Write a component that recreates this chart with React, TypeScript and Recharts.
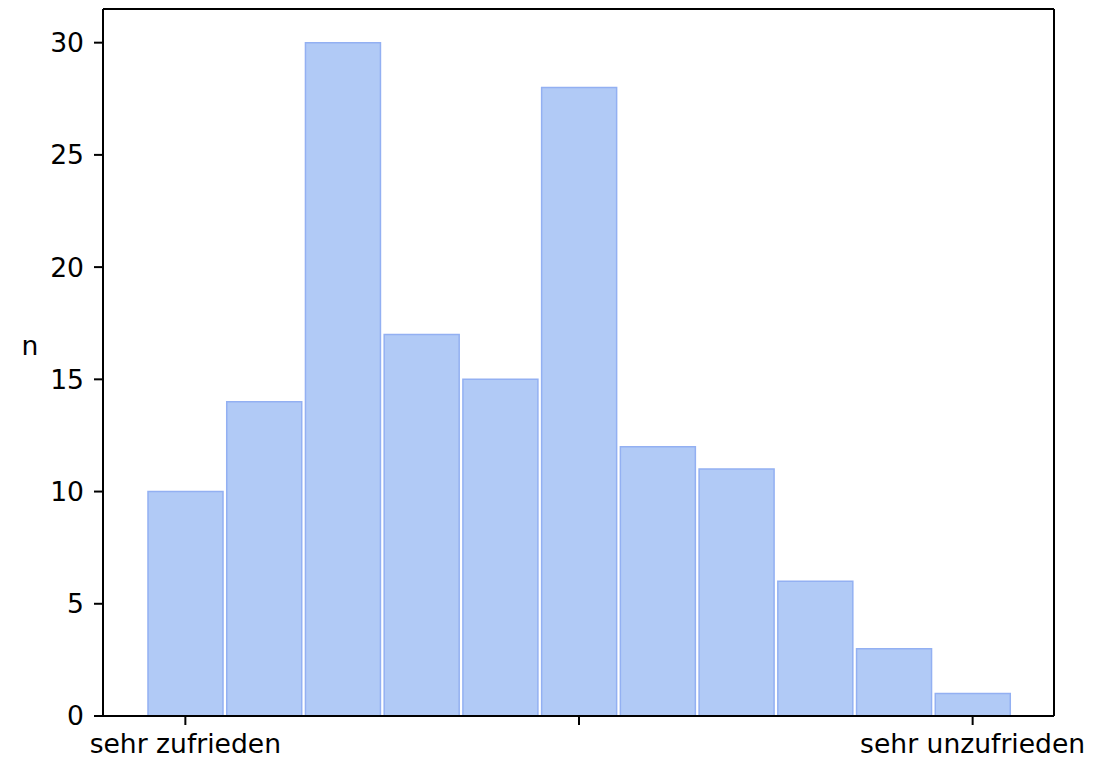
import React from "react";
import { BarChart, Bar, XAxis, YAxis } from "recharts";

const categories = [1, 2, 3, 4, 5, 6, 7, 8, 9, 10, 11];
const counts = [10, 14, 30, 17, 15, 28, 12, 11, 6, 3, 1];
const yTicks = [0, 5, 10, 15, 20, 25, 30];
const xTickValues = [1, 6, 11];
const xTickLabels = ["sehr zufrieden", "", "sehr unzufrieden"];
const yLabel = "n";

const data = categories.map((c, i) => ({ cat: c, n: counts[i] }));

const FONT = "'DejaVu Sans', sans-serif";
const FONT_SIZE = 26.6;
const TICK_SIZE = 9;
const TICK_MARGIN = 9;

function XTick(props: any) {
  const { x, y, payload } = props;
  const idx = xTickValues.indexOf(payload.value);
  if (idx < 0) return null;
  const axisY = y - TICK_SIZE - TICK_MARGIN;
  return (
    <g>
      <line x1={x} x2={x} y1={axisY} y2={axisY + TICK_SIZE} stroke="#000" strokeWidth={2} />
      {xTickLabels[idx] ? (
        <text
          x={x}
          y={y}
          dy="0.71em"
          textAnchor="middle"
          fill="#000"
          fontSize={FONT_SIZE}
          fontFamily={FONT}
        >
          {xTickLabels[idx]}
        </text>
      ) : null}
    </g>
  );
}

function YLabel(props: any) {
  const vb = props.viewBox || {};
  const midY = (vb.y || 0) + (vb.height || 0) / 2;
  return (
    <text
      x={(vb.x || 0) + 22}
      y={midY - 7.5}
      textAnchor="middle"
      fill="#000"
      fontSize={FONT_SIZE}
      fontFamily={FONT}
    >
      {yLabel}
    </text>
  );
}

export default function App() {
  return (
    <BarChart
      width={1090}
      height={752}
      data={data}
      margin={{ top: 0, right: 43, bottom: 8, left: 0 }}
      barCategoryGap={2}
    >
      <XAxis
        dataKey="cat"
        type="category"
        interval={0}
        height={36}
        padding={{ left: 43, right: 42 }}
        tickLine={false}
        tickSize={TICK_SIZE}
        tickMargin={TICK_MARGIN}
        axisLine={{ stroke: "#000", strokeWidth: 2 }}
        tick={<XTick />}
      />
      <XAxis
        xAxisId="top"
        dataKey="cat"
        orientation="top"
        height={1}
        tick={false}
        tickLine={false}
        padding={{ left: 43, right: 42 }}
        axisLine={{ stroke: "#000", strokeWidth: 2 }}
      />
      <YAxis
        type="number"
        domain={[0, 31.5]}
        ticks={yTicks}
        width={95}
        tickSize={TICK_SIZE}
        tickMargin={10}
        tickLine={{ stroke: "#000", strokeWidth: 2 }}
        axisLine={{ stroke: "#000", strokeWidth: 2 }}
        tick={{ fill: "#000", fontSize: FONT_SIZE, fontFamily: FONT }}
        label={<YLabel />}
        allowDataOverflow
      />
      <YAxis
        yAxisId="right"
        orientation="right"
        width={1}
        domain={[0, 31.5]}
        tick={false}
        tickLine={false}
        axisLine={{ stroke: "#000", strokeWidth: 2 }}
      />
      <Bar
        dataKey="n"
        fill="#b1caf6"
        stroke="#93b0f2"
        strokeWidth={1.5}
        isAnimationActive={false}
      />
    </BarChart>
  );
}
